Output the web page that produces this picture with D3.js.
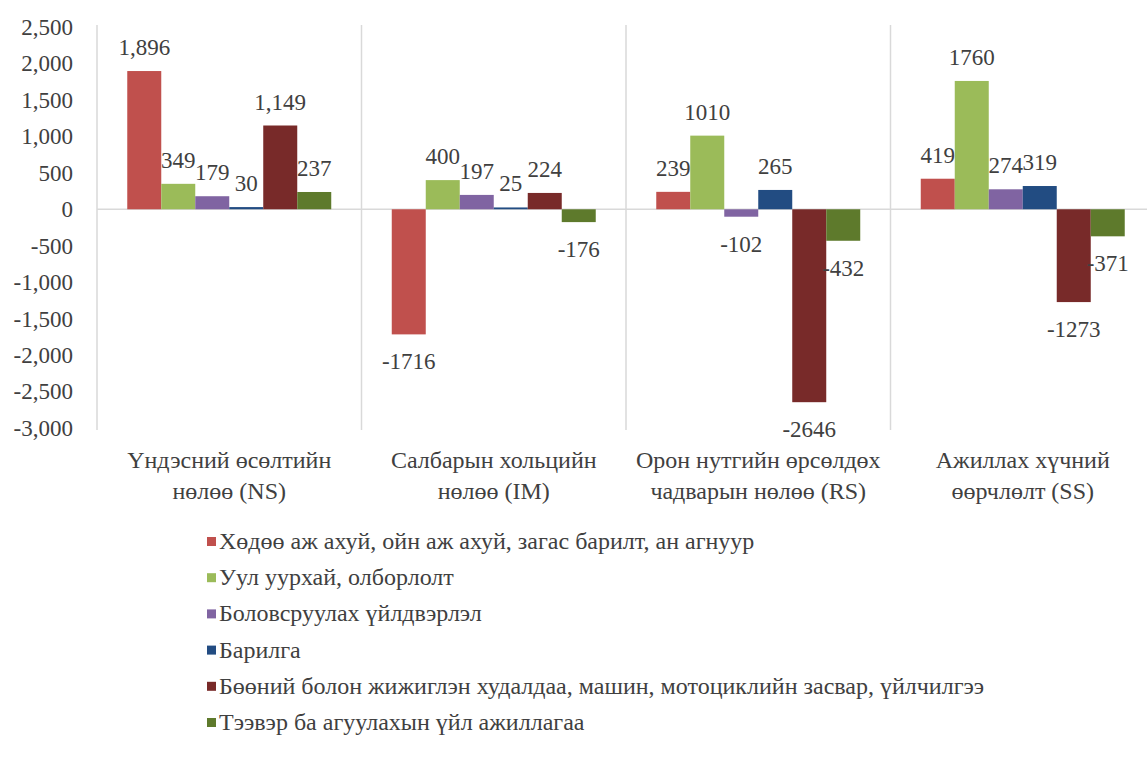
<!DOCTYPE html>
<html>
<head>
<meta charset="utf-8">
<script src="https://cdn.jsdelivr.net/npm/d3@7"></script>
</head>
<body style="margin:0">
<svg id="chart" width="1147" height="760" font-family="Liberation Serif"></svg>
<script>
// ---- data ----
const categories = ["NS", "IM", "RS", "SS"];
const categoryLabels = [
  ["Үндэсний өсөлтийн", "нөлөө (NS)"],
  ["Салбарын хольцийн", "нөлөө (IM)"],
  ["Орон нутгийн өрсөлдөх", "чадварын нөлөө (RS)"],
  ["Ажиллах хүчний", "өөрчлөлт (SS)"]
];
const seriesNames = [
  "Хөдөө аж ахуй, ойн аж ахуй, загас барилт, ан агнуур",
  "Уул уурхай, олборлолт",
  "Боловсруулах үйлдвэрлэл",
  "Барилга",
  "Бөөний болон жижиглэн худалдаа, машин, мотоциклийн засвар, үйлчилгээ",
  "Тээвэр ба агуулахын үйл ажиллагаа"
];
const seriesColors = ["#C0504D", "#9BBB59", "#8064A2", "#224C82", "#782A29", "#5E7A2C"];
// values per series, in category order NS, IM, RS, SS
const agriculture   = [1896, -1716, 239, 419];
const mining        = [349, 400, 1010, 1760];
const manufacturing = [179, 197, -102, 274];
const construction  = [30, 25, 265, 319];
const trade         = [1149, 224, -2646, -1273];
const transport     = [237, -176, -432, -371];
const seriesValues = [agriculture, mining, manufacturing, construction, trade, transport];
// NS group labels printed with thousands separators
const useComma = [true, false, false, false];
const yTicks = [2500, 2000, 1500, 1000, 500, 0, -500, -1000, -1500, -2000, -2500, -3000];

// ---- chart ----
const FONT = "Liberation Serif";
const TXT = "#404040";
const loc = d3.formatLocale({decimal: ".", thousands: ",", grouping: [3], currency: ["", ""], minus: "-"});
const svg = d3.select("#chart");
const left = 97, catStep = 264.5;
const y = d3.scaleLinear().domain([-3000, 2500]).range([428, 27]);
const x0 = d3.scaleBand().domain(categories).range([left, left + catStep * categories.length]).padding(0);
const x1 = d3.scaleBand().domain(d3.range(seriesNames.length)).range([0, x0.bandwidth()]).paddingInner(0).paddingOuter(0.89);

const grid = svg.append("g").attr("stroke", "#d9d9d9").attr("stroke-width", 1.5);
categories.forEach(c => {
  const xx = x0(c);
  grid.append("line").attr("x1", xx).attr("x2", xx).attr("y1", 25).attr("y2", 430);
});
grid.append("line").attr("x1", left).attr("x2", 1147).attr("y1", y(0)).attr("y2", y(0));

// y axis labels
const yAxis = d3.axisLeft(y).tickValues(yTicks).tickFormat(loc.format(",")).tickSize(0).tickPadding(24);
const ag = svg.append("g").attr("transform", `translate(${left},0)`).call(yAxis);
ag.attr("font-family", FONT).attr("font-size", 23);
ag.select(".domain").remove();
ag.selectAll("text").attr("font-family", FONT).attr("font-size", 23).attr("fill", TXT);

// bars
const rows = [];
seriesValues.forEach((vals, s) => {
  vals.forEach((v, ci) => rows.push({s, c: categories[ci], ci, v}));
});
svg.append("g").selectAll("rect").data(rows).join("rect")
  .attr("x", d => x0(d.c) + x1(d.s))
  .attr("width", x1.bandwidth())
  .attr("y", d => y(Math.max(0, d.v)))
  .attr("height", d => Math.abs(y(d.v) - y(0)))
  .attr("fill", d => seriesColors[d.s]);

// data labels
const fmtC = loc.format(","), fmtP = loc.format("d");
svg.append("g").selectAll("text").data(rows).join("text")
  .attr("x", d => x0(d.c) + x1(d.s) + x1.bandwidth() / 2)
  .attr("y", d => d.v >= 0 ? y(d.v) - 16 : y(d.v) + 35)
  .attr("text-anchor", "middle")
  .attr("fill", TXT)
  .attr("font-family", FONT).attr("font-size", 23)
  .text(d => (useComma[d.ci] ? fmtC : fmtP)(d.v));

// category labels
categories.forEach((c, i) => {
  const cx = x0(c) + x0.bandwidth() / 2;
  const t = svg.append("text").attr("text-anchor", "middle").attr("fill", TXT)
    .attr("font-family", FONT).attr("font-size", 24);
  categoryLabels[i].forEach((line, k) => {
    t.append("tspan").attr("x", cx).attr("y", 468 + k * 31).text(line);
  });
});

// legend
const lg = svg.append("g");
seriesNames.forEach((name, i) => {
  const yy = 549 + i * 36.2;
  lg.append("rect").attr("x", 207).attr("y", yy - 12).attr("width", 9).attr("height", 9).attr("fill", seriesColors[i]);
  lg.append("text").attr("x", 219).attr("y", yy).attr("fill", TXT)
    .attr("font-family", FONT).attr("font-size", 24).text(name);
});
</script>
</body>
</html>
